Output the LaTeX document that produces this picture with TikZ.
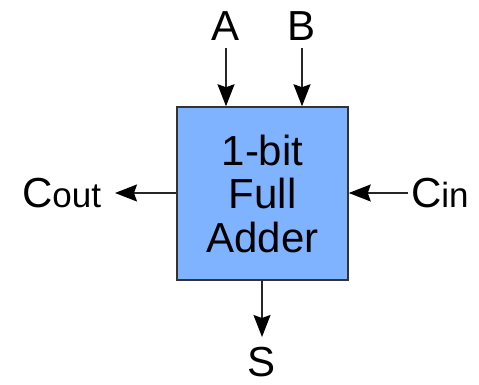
\documentclass[tikz,border=0pt]{standalone}
\usepackage{fontspec}
\setmainfont{Liberation Sans}
\usetikzlibrary{arrows.meta, positioning, calc}
\definecolor{adderblue}{HTML}{80B3FF}
\definecolor{edgegray}{HTML}{333333}

\newcommand{\bigtxt}{\fontsize{42}{43.5}\selectfont}
\newcommand{\subtxt}[1]{{\fontsize{35}{35}\selectfont #1}}

\begin{document}
\begin{tikzpicture}[x=1pt, y=1pt, >={Stealth[length=22pt, width=17pt, inset=3pt, color=black]}]

\tikzset{
  adder/.style={draw=edgegray, fill=adderblue, line width=1.5pt,
    minimum width=171pt, minimum height=173pt, align=center,
    font=\bigtxt, inner sep=0pt},
  sig/.style={font=\bigtxt, inner sep=0pt, outer sep=0pt},
  wire/.style={->, black!85, line width=1.6pt}
}

% Canvas
\useasboundingbox (0,0) rectangle (479,385);

% The adder block
\node[adder] (fa) at (262.5,191.5) {1-bit\\Full\\Adder};

% Inputs
\node[sig, anchor=base] (a) at (226,344) {A};
\node[sig, anchor=base] (b) at (302,344) {B};
\node[sig, anchor=west] (cin) at (411,192) {C\subtxt{in}};

% Outputs
\node[sig, anchor=east] (cout) at (101,192) {C\subtxt{out}};
\node[sig, anchor=north] (s) at (262,38) {S};

% Wires
\draw[wire, shorten <=7pt] (a.south) -- (a.south |- fa.north);
\draw[wire, shorten <=7pt] (b.south) -- (b.south |- fa.north);
\draw[wire, shorten <=3pt] (cin) -- (fa.east |- cin);
\draw[wire, shorten >=14pt] (fa.west |- cout) -- (cout);
\draw[wire, shorten >=10pt] (fa.south -| s) -- (s);

\end{tikzpicture}
\end{document}
